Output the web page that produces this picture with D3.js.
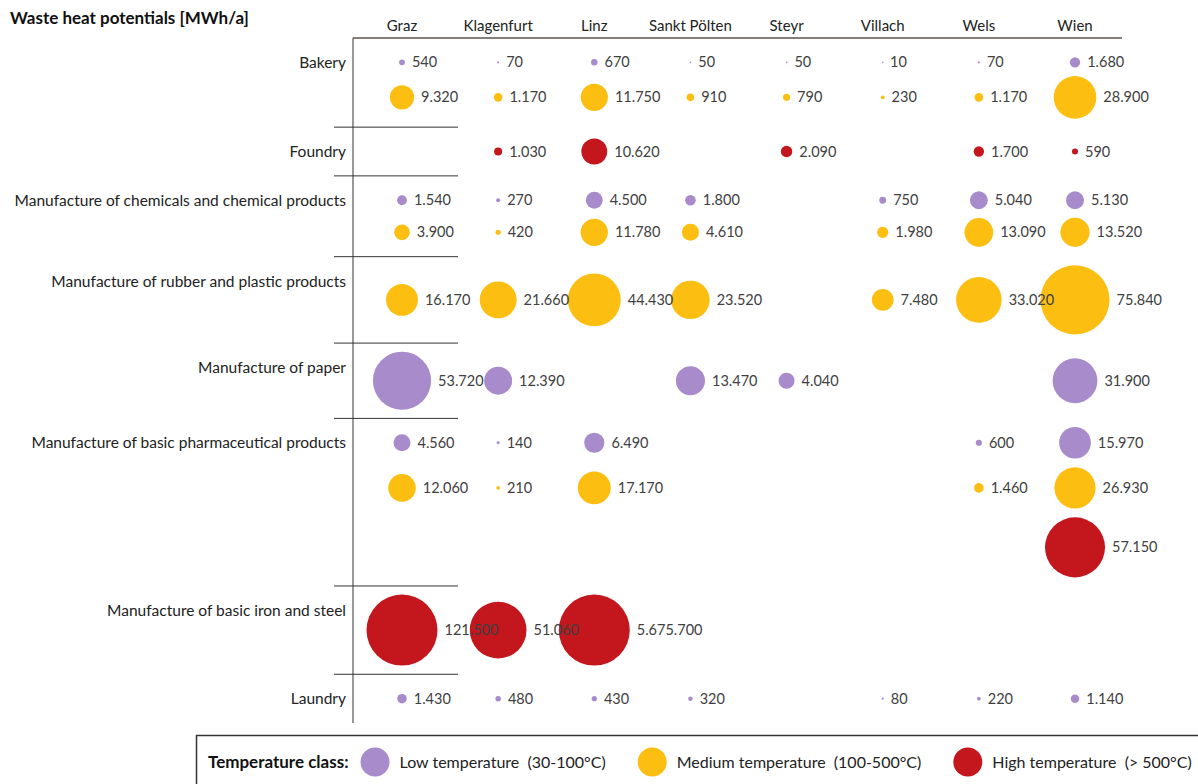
<!DOCTYPE html>
<meta charset="utf-8">
<style>
  body { margin: 0; background: #fff; }
  text { font-family: Lato, "Open Sans", sans-serif; }
</style>
<body>
<div id="chart"></div>
<script src="https://cdn.jsdelivr.net/npm/d3@7"></script>
<script>

var cities = ["Graz", "Klagenfurt", "Linz", "Sankt Pölten", "Steyr", "Villach", "Wels", "Wien"];

var industries = [
  "Bakery",
  "Foundry",
  "Manufacture of chemicals and chemical products",
  "Manufacture of rubber and plastic products",
  "Manufacture of paper",
  "Manufacture of basic pharmaceutical products",
  "Manufacture of basic iron and steel",
  "Laundry"
];

// MWh/a per city, one entry per industry, null = nothing in that class
var lowTemp = [
  [540, 70, 670, 50, 50, 10, 70, 1680],
  null,
  [1540, 270, 4500, 1800, null, 750, 5040, 5130],
  null,
  [53720, 12390, null, 13470, 4040, null, null, 31900],
  [4560, 140, 6490, null, null, null, 600, 15970],
  null,
  [1430, 480, 430, 320, null, 80, 220, 1140]
];

var mediumTemp = [
  [9320, 1170, 11750, 910, 790, 230, 1170, 28900],
  null,
  [3900, 420, 11780, 4610, null, 1980, 13090, 13520],
  [16170, 21660, 44430, 23520, null, 7480, 33020, 75840],
  null,
  [12060, 210, 17170, null, null, null, 1460, 26930],
  null,
  null
];

var highTemp = [
  null,
  [null, 1030, 10620, null, 2090, null, 1700, 590],
  null,
  null,
  null,
  [null, null, null, null, null, null, null, 57150],
  [121500, 51060, 5675700, null, null, null, null, null],
  null
];

var classNames = ["low", "medium", "high"];
var classLabels = ["Low temperature  (30-100°C)", "Medium temperature  (100-500°C)", "High temperature  (> 500°C)"];
var classColors = ["#a88bcb", "#fdbe12", "#c3161d"];

var width = 1198,
    height = 784;

var svg = d3.select("#chart").append("svg")
    .attr("width", width)
    .attr("height", height);

var fmt = d3.formatLocale({decimal: ",", thousands: ".", grouping: [3], currency: ["", ""]}).format(",d");

var x = d3.scalePoint()
    .domain(cities)
    .range([402, 1075]);

var r = d3.scaleSqrt()
    .domain([0, 80000])
    .range([0, 35.5])
    .clamp(true);

var color = d3.scaleOrdinal().domain(classNames).range(classColors);

// sub rows: one per temperature class that has data, spaced by their biggest bubbles
var gap = 8, edge = 24;
var byClass = {low: lowTemp, medium: mediumTemp, high: highTemp};
var bands = industries.map(function(name, i) {
  var subs = [];
  classNames.forEach(function(c) {
    var vals = byClass[c][i];
    if (!vals) return;
    var rmax = d3.max(vals, function(v) { return v == null ? 0 : r(v); });
    subs.push({cls: c, values: vals, rmax: rmax});
  });
  var pos = Math.max(edge, subs[0].rmax + gap);
  subs[0].off = pos;
  for (var j = 1; j < subs.length; j++) {
    pos += subs[j - 1].rmax + subs[j].rmax + gap;
    subs[j].off = pos;
  }
  var last = subs[subs.length - 1];
  return {name: name, subs: subs, h: pos + Math.max(edge, last.rmax + gap)};
});

var yTop = 38, yBottom = 723;
var k = (yBottom - yTop) / d3.sum(bands, function(b) { return b.h; });
var y0 = yTop;
bands.forEach(function(b) {
  b.y0 = y0;
  b.subs.forEach(function(s) { s.cy = y0 + s.off * k; });
  y0 += b.h * k;
  b.y1 = y0;
});

// title
svg.append("text")
    .attr("x", 10)
    .attr("y", 24)
    .style("font-size", "17px")
    .style("font-weight", "bold")
    .attr("fill", "#111")
    .text("Waste heat potentials [MWh/a]");

// column headers
svg.selectAll(".city")
    .data(cities)
  .enter().append("text")
    .attr("class", "city")
    .attr("x", function(d) { return x(d); })
    .attr("y", 31)
    .attr("text-anchor", "middle")
    .style("font-size", "15px")
    .attr("fill", "#222")
    .text(function(d) { return d; });

svg.append("line")
    .attr("x1", 353).attr("x2", 1122)
    .attr("y1", yTop).attr("y2", yTop)
    .attr("stroke", "#5a5250")
    .attr("stroke-width", 1.5);

svg.append("line")
    .attr("x1", 353).attr("x2", 353)
    .attr("y1", yTop).attr("y2", yBottom)
    .attr("stroke", "#333")
    .attr("stroke-width", 1);

svg.selectAll(".sep")
    .data(bands.slice(1))
  .enter().append("line")
    .attr("class", "sep")
    .attr("x1", 334).attr("x2", 458)
    .attr("y1", function(d) { return d.y0; })
    .attr("y2", function(d) { return d.y0; })
    .attr("stroke", "#333")
    .attr("stroke-width", 1);

svg.selectAll(".industry")
    .data(bands)
  .enter().append("text")
    .attr("class", "industry")
    .attr("x", 346)
    .attr("y", function(d) { return d.y0 + 30; })
    .attr("text-anchor", "end")
    .style("font-size", "15.5px")
    .attr("fill", "#222")
    .text(function(d) { return d.name; });

// bubbles
var points = [];
bands.forEach(function(b) {
  b.subs.forEach(function(s) {
    s.values.forEach(function(v, j) {
      if (v == null) return;
      points.push({city: cities[j], cls: s.cls, value: v, cy: s.cy});
    });
  });
});

svg.selectAll(".bubble")
    .data(points)
  .enter().append("circle")
    .attr("class", "bubble")
    .attr("cx", function(d) { return x(d.city); })
    .attr("cy", function(d) { return d.cy; })
    .attr("r", function(d) { return Math.max(0.8, r(d.value)); })
    .attr("fill", function(d) { return color(d.cls); });

svg.selectAll(".val")
    .data(points)
  .enter().append("text")
    .attr("class", "val")
    .attr("x", function(d) { return x(d.city) + r(d.value) + 7; })
    .attr("y", function(d) { return d.cy; })
    .attr("dy", "0.35em")
    .style("font-size", "14.5px")
    .attr("fill", "#404040")
    .text(function(d) { return fmt(d.value); });

// legend
var legend = svg.append("g");
legend.append("rect")
    .attr("x", 196.5).attr("y", 735.5)
    .attr("width", 1010).attr("height", 60)
    .attr("fill", "#fff")
    .attr("stroke", "#333")
    .attr("stroke-width", 1.5);

var lx = 208;
var ly = 762;
var lt = legend.append("text")
    .attr("x", lx).attr("y", ly)
    .attr("dy", "0.35em")
    .style("font-size", "17px")
    .style("font-weight", "bold")
    .attr("fill", "#111")
    .text("Temperature class:");
lx += lt.node().getComputedTextLength() + 12;

classNames.forEach(function(c, i) {
  legend.append("circle")
      .attr("cx", lx + 14.5).attr("cy", ly)
      .attr("r", 14.5)
      .attr("fill", color(c));
  lx += 39;
  var t = legend.append("text")
      .attr("x", lx).attr("y", ly)
      .attr("dy", "0.35em")
      .style("font-size", "16px")
      .attr("fill", "#222")
      .style("white-space", "pre")
      .text(classLabels[i]);
  lx += t.node().getComputedTextLength() + 32;
});

</script>
</body>
